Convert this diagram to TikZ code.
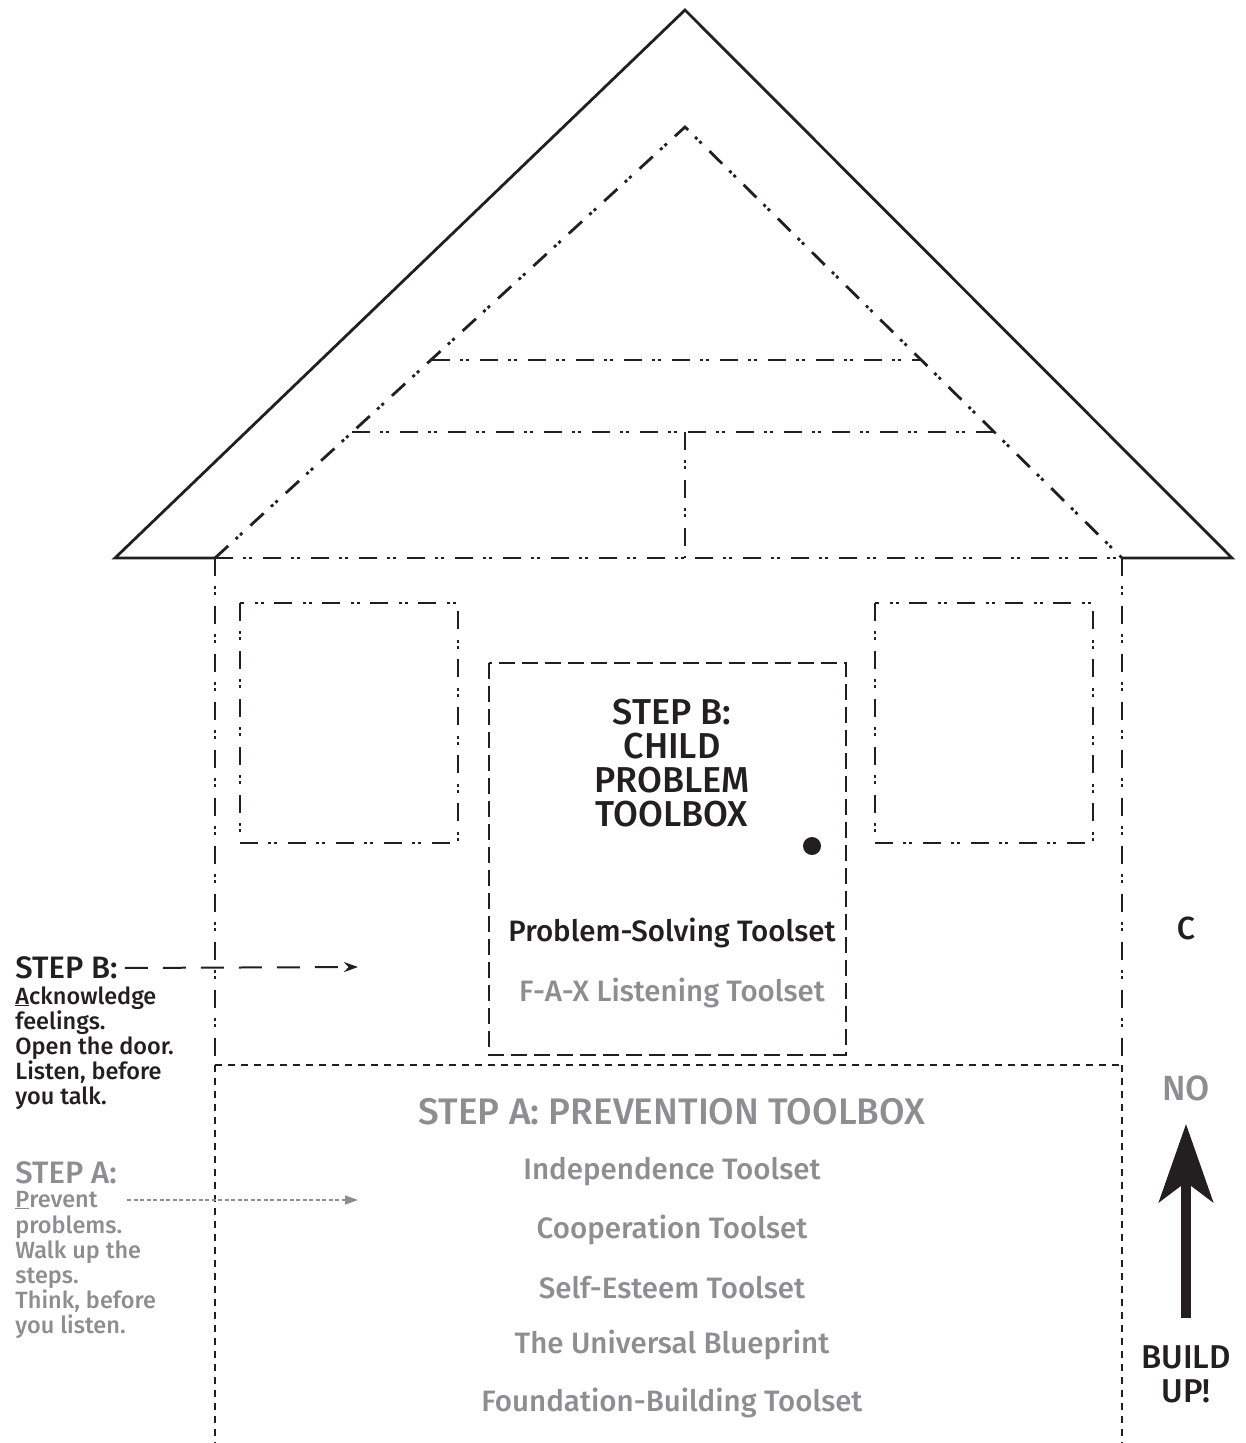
\documentclass[tikz,border=0pt]{standalone}
\usepackage{fontspec}
\setmainfont{Fira Sans Medium}
\usetikzlibrary{arrows.meta, positioning}
\definecolor{cink}{HTML}{231F20}
\definecolor{cgrey}{HTML}{8E8E91}
\tikzset{
  every picture/.style={x=1pt, y=-1pt, line width=2.8pt, color=cink},
  roofline/.style={line width=2.8pt, line join=miter},
  ddot/.style={line width=2.8pt, dash pattern=on 18pt off 10pt on 3pt off 3pt on 3pt off 11pt},
  doorline/.style={line width=2.8pt, dash pattern=on 16pt off 7pt},
  floorline/.style={line width=2.8pt, dash pattern=on 7pt off 6pt},
  txt/.style={inner sep=0pt, font=\fontsize{#1}{#1}\selectfont},
  txt/.default=29.5,
  side/.style={inner sep=0pt, align=left, font=\fontsize{23.5}{25.2}\selectfont},
  barrow/.style={-{Stealth[length=14pt, width=10pt]}, line width=2pt, dash pattern=on 23pt off 15pt},
  aarrow/.style={-{Triangle[length=13pt, width=9pt]}, draw=cgrey, line width=1.6pt, dash pattern=on 4pt off 2.5pt},
  bigarrow/.style={-{Stealth[length=78pt, width=54pt, inset=20pt]}, line width=10pt},
}
\begin{document}
\begin{tikzpicture}
  \useasboundingbox (0,0) rectangle (1245,1443);
  \draw[roofline] (215,558) -- (115,558) -- (685,10) -- (1232,558) -- (1122,558);
  \draw[ddot] (215,558) -- (685,127) -- (1122,558);
  \draw[ddot] (432,360) -- (920,360);
  \draw[ddot] (352,432) -- (993,432);
  \draw[ddot] (685,432) -- (685,558);
  \draw[ddot] (215,558) -- (1122,558);
  \draw[ddot] (215,558) -- (215,1065);
  \draw[ddot] (1122,558) -- (1122,1065);
  \draw[floorline] (215,1065) -- (1122,1065);
  \draw[floorline] (215,1065) -- (215,1443);
  \draw[floorline] (1122,1065) -- (1122,1443);
  \draw[ddot] (240,603) rectangle (458,843);
  \draw[ddot] (875,603) rectangle (1093,843);
  \draw[doorline] (489,663) rectangle (846,1055);
  \fill (812,846) circle (9pt);

  \node[align=center, inner sep=0pt, font=\fontsize{36}{34}\selectfont] (doortitle) at (672,763) {STEP B:\\CHILD\\PROBLEM\\TOOLBOX};
  \node[txt] (pst) at (672,933) {Problem-Solving Toolset};
  \node[txt, text=cgrey] (fax) at (672,993) {F-A-X Listening Toolset};
  \node[txt=37, text=cgrey] (prevtitle) at (672,1112) {STEP A: PREVENTION TOOLBOX};
  \foreach \tool [count=\i] in {Independence Toolset, Cooperation Toolset, Self-Esteem Toolset, The Universal Blueprint, Foundation-Building Toolset}
    \node[txt, text=cgrey] (ts\i) at (672,{1114.25+57.75*\i}) {\tool};

  \node[txt=31, anchor=west] (stepB) at (14,968) {STEP B:};
  \node[side, anchor=north west] (stepBtxt) at (14,985) {\underline{A}cknowledge\\feelings.\\Open the door.\\Listen, before\\you talk.};
  \coordinate (bEnd) at (358,967);
  \draw[barrow, shorten <=6pt] (stepB.east) -- (bEnd);

  \node[txt=31, anchor=west, text=cgrey] (stepA) at (14,1173) {STEP A:};
  \node[side, anchor=west, text=cgrey] (prevent) at (14,1200) {\underline{P}revent};
  \node[side, anchor=north west, text=cgrey] (stepAtxt) at (14,1214) {problems.\\Walk up the\\steps.\\Think, before\\you listen.};
  \coordinate (aEnd) at (358,1200);
  \draw[aarrow, shorten <=28pt] (prevent.east) -- (aEnd);

  \node[txt=32] (cnode) at (1186,928) {C};
  \node[txt=35, text=cgrey] (no) at (1186,1088) {NO};
  \node[align=center, inner sep=0pt, font=\fontsize{33}{34}\selectfont] (build) at (1186,1374) {BUILD\\UP!};
  \draw[bigarrow, shorten <=26pt, shorten >=22pt] (build.north) -- (no.south);
\end{tikzpicture}
\end{document}
